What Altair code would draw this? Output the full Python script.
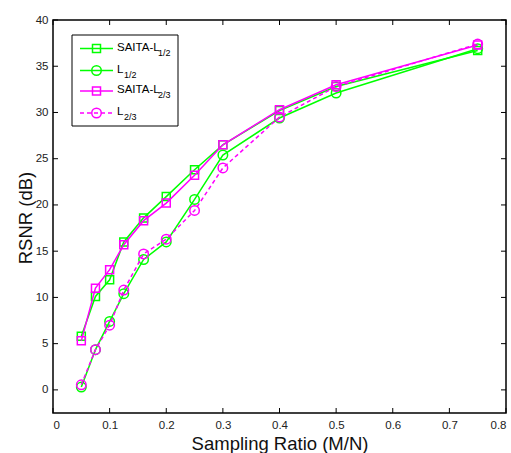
import altair as alt
import pandas as pd

# ---- data ----
ratios = [0.05, 0.075, 0.1, 0.125, 0.16, 0.2, 0.25, 0.3, 0.4, 0.5, 0.75]
saita_l12 = [5.8, 10.1, 11.9, 16.0, 18.6, 20.9, 23.8, 26.5, 30.2, 32.8, 36.7]
l12 = [0.3, 4.35, 7.4, 10.4, 14.1, 16.0, 20.6, 25.4, 29.4, 32.1, 36.9]
saita_l23 = [5.3, 11.0, 13.0, 15.7, 18.3, 20.2, 23.2, 26.5, 30.3, 33.0, 37.3]
l23 = [0.55, 4.35, 7.0, 10.8, 14.7, 16.3, 19.4, 24.0, 29.5, 32.8, 37.4]

legend_main = ["SAITA-L", "L", "SAITA-L", "L"]
legend_sub = ["1/2", "1/2", "2/3", "2/3"]
x_ticks = [0, 0.1, 0.2, 0.3, 0.4, 0.5, 0.6, 0.7, 0.8]
y_ticks = [0, 5, 10, 15, 20, 25, 30, 35, 40]

GREEN = "#00ff00"
MAGENTA = "#ff00ff"
FONT = "Liberation Sans"
W, H = 453, 393

xscale = alt.Scale(domain=[0, 0.8], nice=False, zero=False)
yscale = alt.Scale(domain=[-2.5, 40], nice=False, zero=False)

xaxis = alt.Axis(values=x_ticks, title="Sampling Ratio (M/N)",
                 labelExpr="datum.value == 0 ? '0' : format(datum.value, '.1f')",
                 tickSize=0, domain=False, grid=False, labelPadding=6,
                 labelFont=FONT, labelFontSize=11.5, labelColor="#222",
                 titleFont=FONT, titleFontSize=18.5, titleFontWeight="normal",
                 titleColor="#111", titleY=36, titleBaseline="alphabetic")
yaxis = alt.Axis(values=y_ticks, title="RSNR (dB)",
                 tickSize=0, domain=False, grid=False, labelPadding=5,
                 labelFont=FONT, labelFontSize=11.5, labelColor="#222",
                 titleFont=FONT, titleFontSize=18.5, titleFontWeight="normal",
                 titleColor="#111", titleX=-28, titleY=H / 2 + 1,
                 titleBaseline="middle", titleAngle=270)


def X(f):
    return alt.X(f + ":Q", scale=xscale, axis=xaxis)


def Y(f):
    return alt.Y(f + ":Q", scale=yscale, axis=yaxis)


series = [
    (saita_l12, GREEN, "square", None, 64),
    (l12, GREEN, "circle", None, 90),
    (saita_l23, MAGENTA, "square", None, 64),
    (l23, MAGENTA, "circle", [4, 3], 90),
]

layers = []

# inward ticks on all four sides
xt = pd.DataFrame({"t": x_ticks})
yt = pd.DataFrame({"t": y_ticks})
for y1, y2 in [(H, H - 5), (0, 5)]:
    layers.append(alt.Chart(xt).mark_rule(color="black", strokeWidth=1).encode(
        x=X("t"), y=alt.value(y1), y2=alt.value(y2)))
for x1, x2 in [(0, 5), (W, W - 5)]:
    layers.append(alt.Chart(yt).mark_rule(color="black", strokeWidth=1).encode(
        y=Y("t"), x=alt.value(x1), x2=alt.value(x2)))

for vals, color, shape, dash, size in series:
    df = pd.DataFrame({"x": ratios, "y": vals})
    if dash:
        ln = alt.Chart(df).mark_line(color=color, strokeWidth=1.5, strokeDash=dash)
    else:
        ln = alt.Chart(df).mark_line(color=color, strokeWidth=1.5)
    layers.append(ln.encode(x=X("x"), y=Y("y")))
    layers.append(alt.Chart(df).mark_point(shape=shape, color=color, size=size,
                                           strokeWidth=1.5, filled=False, opacity=1).encode(
        x=X("x"), y=Y("y")))

# legend box
one = alt.Data(values=[{"a": 1}])
layers.append(alt.Chart(one).mark_rect(fill="white", stroke="black", strokeWidth=1).encode(
    x=alt.value(19), x2=alt.value(125), y=alt.value(15), y2=alt.value(106)))
row_y = [28.5, 50.5, 71, 93]
sub_x = [105, 71, 105, 71]
for i, (vals, color, shape, dash, size) in enumerate(series):
    ry = row_y[i]
    if dash:
        r = alt.Chart(one).mark_rule(color=color, strokeWidth=1.5, strokeDash=dash)
    else:
        r = alt.Chart(one).mark_rule(color=color, strokeWidth=1.5)
    layers.append(r.encode(x=alt.value(27), x2=alt.value(60), y=alt.value(ry)))
    layers.append(alt.Chart(one).mark_point(shape=shape, color=color, size=size,
                                            strokeWidth=1.5, filled=False, opacity=1).encode(
        x=alt.value(43.5), y=alt.value(ry)))
    layers.append(alt.Chart(one).mark_text(text=legend_main[i], font=FONT, fontSize=11.5,
                                           align="left", baseline="middle", color="black").encode(
        x=alt.value(64), y=alt.value(ry - 1)))
    layers.append(alt.Chart(one).mark_text(text=legend_sub[i], font=FONT, fontSize=9,
                                           align="left", baseline="middle", color="black").encode(
        x=alt.value(sub_x[i]), y=alt.value(ry + 4)))

chart = alt.layer(*layers).properties(
    width=W, height=H,
    autosize=alt.AutoSizeParams(type="none"),
    padding={"left": 53, "top": 20, "right": 5, "bottom": 40},
    background="white",
).configure_view(stroke="black", strokeWidth=1.5)

chart.save("out.html", embed_options={"renderer": "svg", "actions": False})
